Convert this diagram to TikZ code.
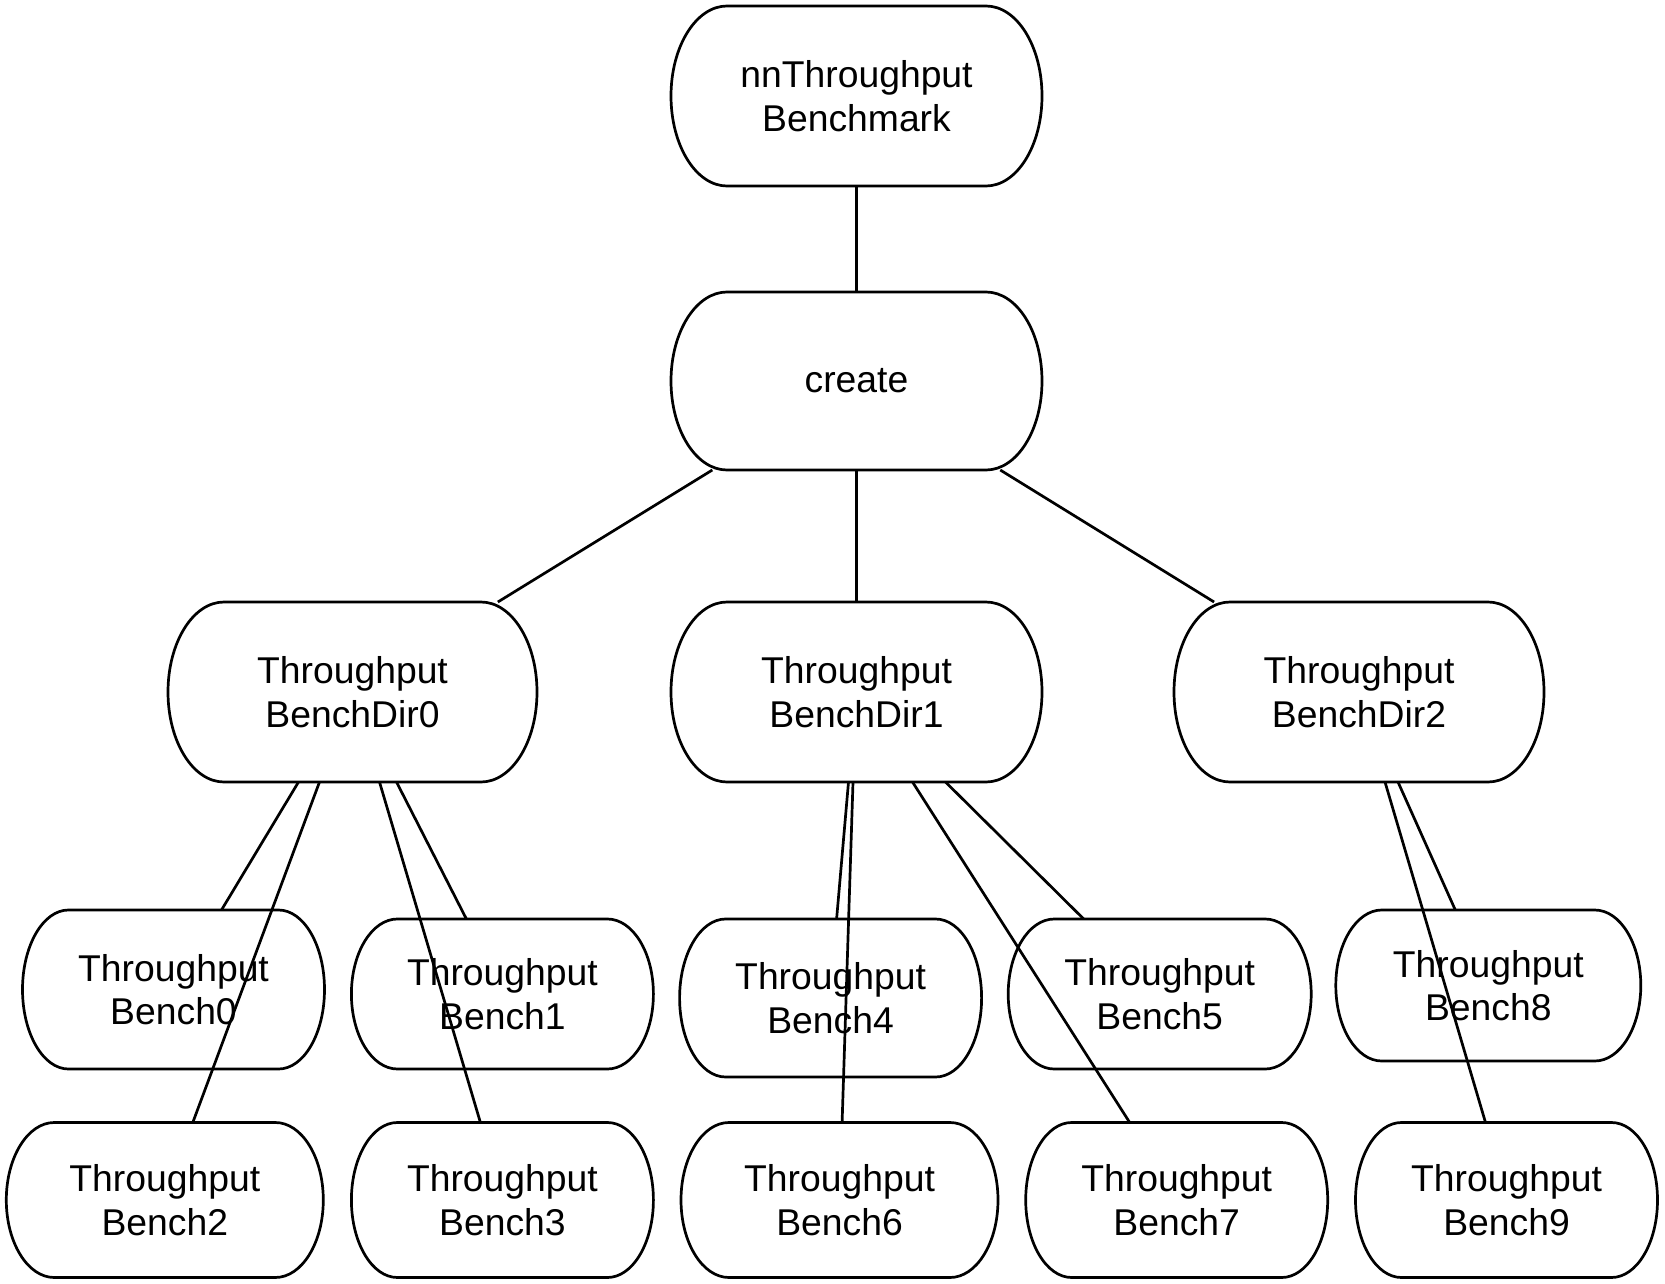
\documentclass[tikz,border=0pt]{standalone}
\usepackage{fontspec}
\setmainfont{Liberation Sans}
\usetikzlibrary{calc}
\newlength{\du}
\setlength{\du}{1pt}
% outline of a capsule node: flat top and bottom, half-ellipse sides
\newcommand{\drawcap}[2]{%
\draw[link] let \p1=(#1.north), \p2=(#1.south) in
  ([xshift=#2\du]#1.north west) -- ([xshift=-#2\du]#1.north east)
  arc[start angle=90, end angle=-90, x radius=#2\du, y radius={(\y1-\y2)/2}]
  -- ([xshift=#2\du]#1.south west)
  arc[start angle=270, end angle=90, x radius=#2\du, y radius={(\y1-\y2)/2}]
  -- cycle;}

\begin{document}
\begin{tikzpicture}[
  capsule/.style={inner sep=0pt, outer sep=0pt, align=center,
    font=\fontsize{37.3}{43.5}\selectfont},
  link/.style={line width=2.7\du, line join=round}]
\useasboundingbox (0\du,0\du) rectangle (1665\du,-1284\du);
% root and create
\node[capsule, minimum width=371\du, minimum height=180\du] (top) at (856.5\du,-96\du) {nnThroughput\\Benchmark};
\node[capsule, minimum width=371\du, minimum height=178\du] (create) at (856.5\du,-381\du) {create};
% bench dirs
\node[capsule, minimum width=369\du, minimum height=180\du] (dir0) at (352.5\du,-692\du) {Throughput\\BenchDir0};
\node[capsule, minimum width=371\du, minimum height=180\du] (dir1) at (856.5\du,-692\du) {Throughput\\BenchDir1};
\node[capsule, minimum width=370\du, minimum height=180\du] (dir2) at (1359\du,-692\du) {Throughput\\BenchDir2};
% benches, upper row
\node[capsule, minimum width=302\du, minimum height=159\du] (bench0) at (173.5\du,-989.5\du) {Throughput\\Bench0};
\node[capsule, minimum width=302\du, minimum height=150\du] (bench1) at (502.4\du,-994\du) {Throughput\\Bench1};
\node[capsule, minimum width=302\du, minimum height=158\du] (bench4) at (830.6\du,-998\du) {Throughput\\Bench4};
\node[capsule, minimum width=303\du, minimum height=150\du] (bench5) at (1159.7\du,-994\du) {Throughput\\Bench5};
\node[capsule, minimum width=305\du, minimum height=151\du] (bench8) at (1488.3\du,-985.5\du) {Throughput\\Bench8};
% benches, lower row
\node[capsule, minimum width=317\du, minimum height=155\du] (bench2) at (164.8\du,-1200\du) {Throughput\\Bench2};
\node[capsule, minimum width=302\du, minimum height=155\du] (bench3) at (502.4\du,-1200\du) {Throughput\\Bench3};
\node[capsule, minimum width=317\du, minimum height=155\du] (bench6) at (839.5\du,-1200\du) {Throughput\\Bench6};
\node[capsule, minimum width=302\du, minimum height=155\du] (bench7) at (1176.7\du,-1200\du) {Throughput\\Bench7};
\node[capsule, minimum width=302\du, minimum height=155\du] (bench9) at (1506.5\du,-1200\du) {Throughput\\Bench9};
% outlines
\drawcap{top}{56}
\drawcap{create}{56}
\drawcap{dir0}{56}
\drawcap{dir1}{56}
\drawcap{dir2}{56}
\drawcap{bench0}{46}
\drawcap{bench1}{46}
\drawcap{bench2}{48}
\drawcap{bench3}{46}
\drawcap{bench4}{46}
\drawcap{bench5}{46}
\drawcap{bench6}{48}
\drawcap{bench7}{46}
\drawcap{bench8}{46}
\drawcap{bench9}{46}
% links
\draw[link] (top) -- (create);
\draw[link] (create) -- (dir0);
\draw[link] (create) -- (dir1);
\draw[link] (create) -- (dir2);
\draw[link] ([xshift=-54\du]dir0.south) -- ([xshift=48\du]bench0.north);
\draw[link] ([xshift=-33\du]dir0.south) -- ([xshift=28\du]bench2.north);
\draw[link] ([xshift=27\du]dir0.south) -- ([xshift=-22\du]bench3.north);
\draw[link] ([xshift=44\du]dir0.south) -- ([xshift=-36\du]bench1.north);
\draw[link] ([xshift=-8\du]dir1.south) -- ([xshift=6\du]bench4.north);
\draw[link] ([xshift=-3.5\du]dir1.south) -- ([xshift=2.6\du]bench6.north);
\draw[link] ([xshift=56\du]dir1.south) -- ([xshift=-47\du]bench7.north);
\draw[link] ([xshift=89\du]dir1.south) -- ([xshift=-76\du]bench5.north);
\draw[link] ([xshift=26\du]dir2.south) -- ([xshift=-21\du]bench9.north);
\draw[link] ([xshift=39\du]dir2.south) -- ([xshift=-33\du]bench8.north);
\end{tikzpicture}
\end{document}
